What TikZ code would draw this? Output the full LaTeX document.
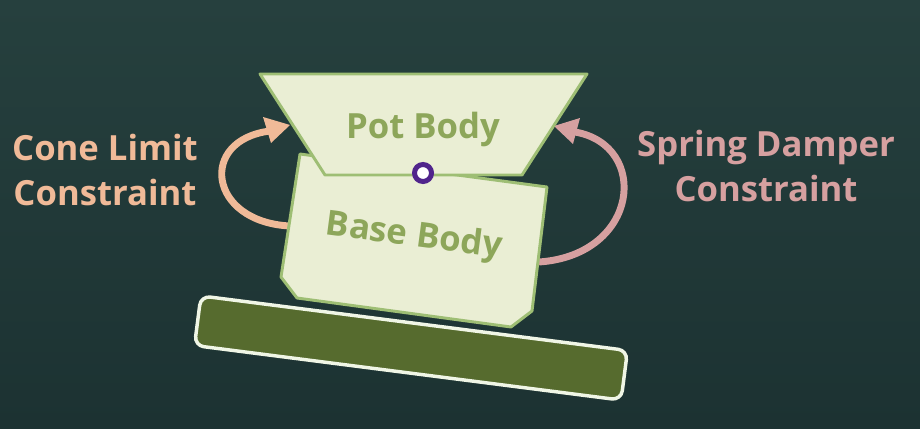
\documentclass[tikz,border=0pt]{standalone}
\usepackage{fontspec}
\setmainfont{Open Sans}
\usepackage{tikz}

\begin{document}
\begin{tikzpicture}[x=0.75pt,y=0.75pt,yscale=-1,xscale=1,
  body/.style={draw={rgb, 255:red, 158; green, 190; blue, 116 }, line width=2.2pt, line join=round, fill={rgb, 255:red, 234; green, 238; blue, 212 }},
  bodytext/.style={text={rgb, 255:red, 141; green, 166; blue, 90 }, font=\fontsize{26}{30}\selectfont\bfseries},
  labeltext/.style={align=center, font=\fontsize{26}{34}\selectfont\bfseries},
  conearrow/.style={draw={rgb, 255:red, 240; green, 186; blue, 152 }, line width=5.2pt},
  springarrow/.style={draw={rgb, 255:red, 214; green, 160; blue, 160 }, line width=5.2pt}
]
%Background
\shade [top color={rgb, 255:red, 38; green, 64; blue, 62 }, bottom color={rgb, 255:red, 28; green, 50; blue, 50 }] (0,0) rectangle (920,428) ;

%Shape: Rounded Rectangle [id:ground]
\draw [draw={rgb, 255:red, 240; green, 246; blue, 230 }, line width=2.6pt, rounded corners=7, fill={rgb, 255:red, 86; green, 107; blue, 46 }] (200.9,295.9) -- (627.5,350.5) -- (621.1,400.1) -- (194.5,345.5) -- cycle ;

%Curve Lines [id:cone]
\coordinate (cone-start) at (290,226) ;
\coordinate (cone-end) at (270,131) ;
\draw [conearrow] (cone-start) .. controls (208,222) and (198,140) .. (cone-end) ;
%Shape: Triangle [id:cone-head]
\draw [fill={rgb, 255:red, 240; green, 186; blue, 152 }, draw=none] (290,125) -- (263,117) -- (271,143) -- cycle ;

%Curve Lines [id:spring]
\coordinate (spring-start) at (539,262) ;
\coordinate (spring-end) at (575,132) ;
\draw [springarrow] (spring-start) .. controls (640,255) and (650,145) .. (spring-end) ;
%Shape: Triangle [id:spring-head]
\draw [fill={rgb, 255:red, 214; green, 160; blue, 160 }, draw=none] (554,126) -- (580,118) -- (573,144) -- cycle ;

%Shape: Polygon [id:base]
\draw [body] (300,154) -- (547,187) -- (532,311) -- (511,327) -- (297,298) -- (281,277) -- cycle ;
%Shape: Trapezoid [id:pot]
\draw [body] (260,74) -- (587,74) -- (522,175) -- (325,175) -- cycle ;

%Shape: Circle [id:joint]
\draw [draw={rgb, 255:red, 80; green, 36; blue, 140 }, line width=3.75pt, fill=white] (423,173) circle (8.5) ;

% Text Node
\node (potlabel) [bodytext, anchor=base] at (423,138) {Pot Body};
% Text Node
\node (baselabel) [bodytext, rotate=-7.5] at (414,237) {Base Body};
% Text Node
\node (conelabel) [labeltext, text={rgb, 255:red, 240; green, 186; blue, 152 }] at (105,170) {Cone Limit\\Constraint};
% Text Node
\node (springlabel) [labeltext, text={rgb, 255:red, 214; green, 160; blue, 160 }] at (766,166) {Spring Damper\\Constraint};

\end{tikzpicture}
\end{document}
